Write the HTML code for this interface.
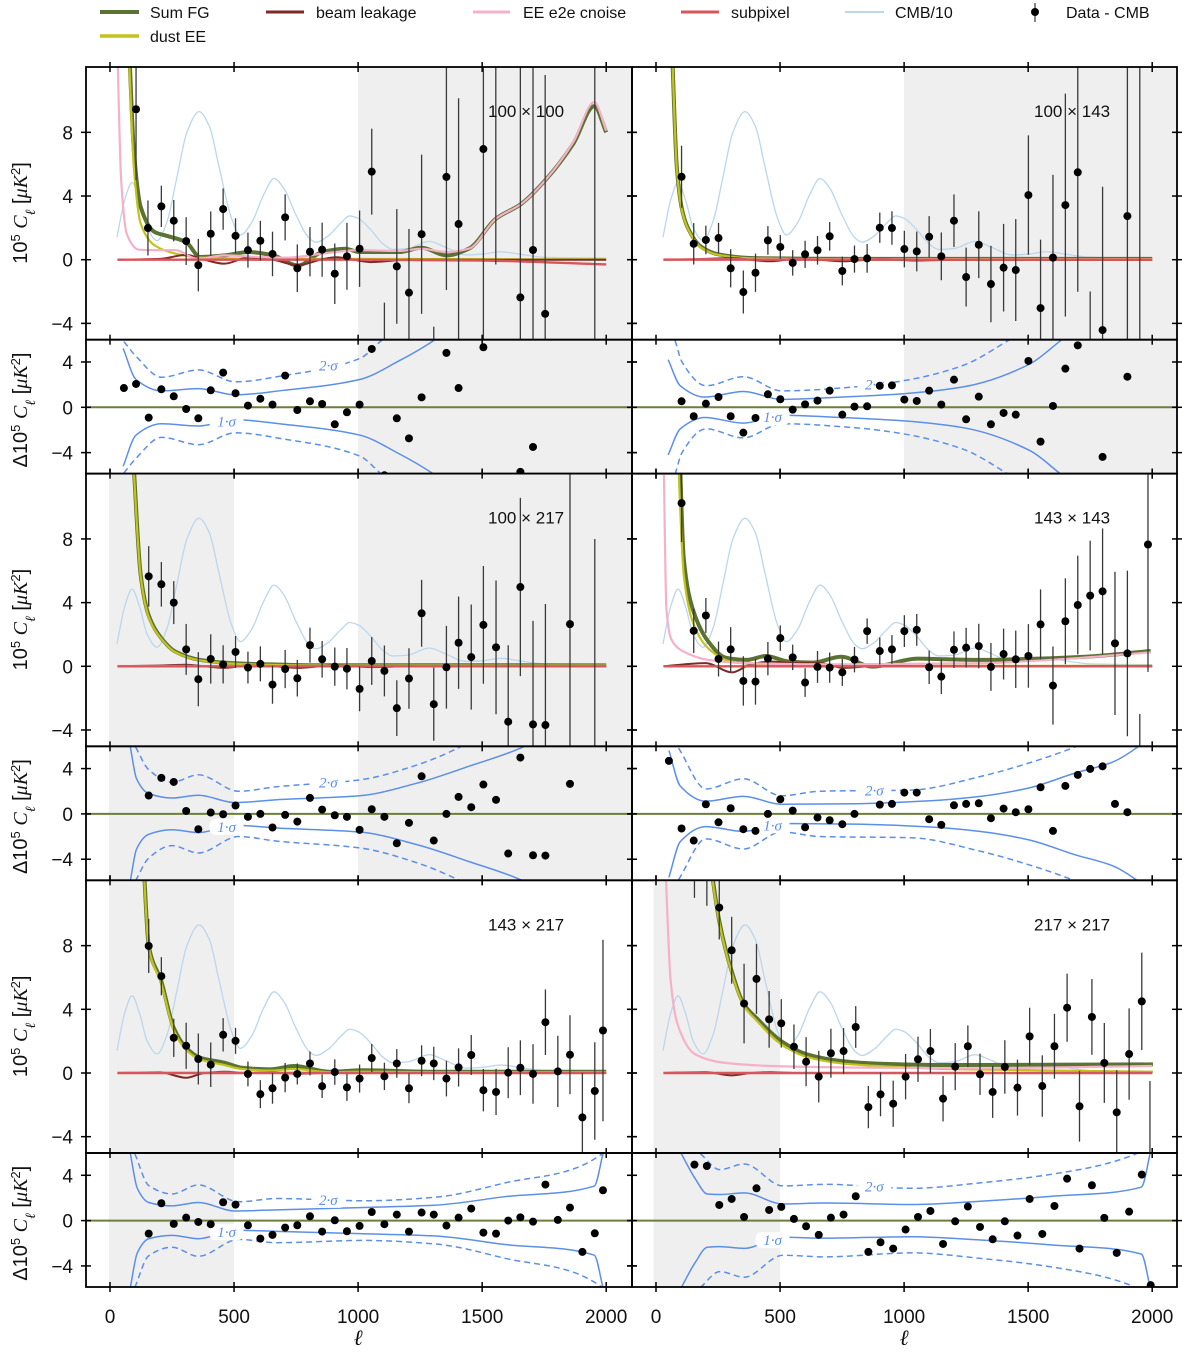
<!DOCTYPE html>
<html><head><meta charset="utf-8"><title>EE foreground residuals</title>
<style>
html,body{margin:0;padding:0;background:#fff}
svg{display:block}
text{font-family:"Liberation Sans","DejaVu Sans",sans-serif;fill:#111}
</style></head>
<body>
<svg id="chart" xmlns="http://www.w3.org/2000/svg" width="1200" height="1362" viewBox="0 0 1200 1362">
<defs id="defs"></defs>
<g id="legend">
  <g><line x1="100" y1="12" x2="139" y2="12" stroke="#5b7332" stroke-width="4"/><text x="150" y="18" font-size="16">Sum FG</text></g>
  <g><line x1="100" y1="36" x2="139" y2="36" stroke="#c4c21c" stroke-width="3.5"/><text x="150" y="42" font-size="16">dust EE</text></g>
  <g><line x1="266" y1="12" x2="304" y2="12" stroke="#7e2a26" stroke-width="3"/><text x="316" y="18" font-size="16">beam leakage</text></g>
  <g><line x1="473" y1="12" x2="510" y2="12" stroke="#f6b0c8" stroke-width="3"/><text x="523" y="18" font-size="16">EE e2e cnoise</text></g>
  <g><line x1="681" y1="12" x2="719" y2="12" stroke="#d9555c" stroke-width="3"/><text x="731" y="18" font-size="16">subpixel</text></g>
  <g><line x1="845" y1="12" x2="884" y2="12" stroke="#bcd6ec" stroke-width="2"/><text x="895" y="18" font-size="16">CMB/10</text></g>
  <g><line x1="1035" y1="3" x2="1035" y2="22" stroke="#333" stroke-width="1.2"/><circle cx="1035" cy="12" r="4" fill="#000"/><text x="1066" y="18" font-size="16">Data - CMB</text></g>
</g>
<g id="panels"></g>
</svg>
<script>
// ---------- shared CMB/10 template ----------
const cmbEll = [28,60,89,120,150,190,230,270,310,359,400,440,490,525,570,620,661,700,750,800,830,880,930,966,1000,1050,1100,1139,1200,1287,1350,1435,1500,1575,1650,1750,2000];
const cmbVal = [1.4,3.8,4.85,3.7,2.0,1.2,2.4,5.2,8.0,9.3,8.4,5.8,2.6,1.55,2.3,4.1,5.1,4.5,2.8,1.4,1.1,1.5,2.3,2.75,2.6,1.9,1.0,0.65,0.7,1.15,0.8,0.3,0.35,0.5,0.35,0.15,0.1];
const beamEll = [30,200,307,380,461,560,658,757,850,911,1052,1200,2000];
const subEll = [30,1000,1500,2000];
const xTicks = [0,500,1000,1500,2000];
const xTickLabels = ["0","500","1000","1500","2000"];
const yMainTicks = [8,4,0,-4];
const yMainTickLabels = ["8","4","0","\u22124"];
const yResTicks = [4,0,-4];
const yResTickLabels = ["4","0","\u22124"];

// ---------- 100 x 100 ----------
const p1_ell = [105,153,207,257,307,356,406,456,506,556,606,655,706,755,806,855,906,955,1006,1055,1106,1156,1205,1256,1305,1356,1405,1505,1555,1654,1705,1754,1954];
const p1_val = [9.45,1.99,3.35,2.45,1.17,-0.34,1.63,3.18,1.5,0.6,1.19,0.36,2.66,-0.54,0.5,0.63,-0.88,0.21,0.69,5.53,-5.6,-0.42,-2.07,1.6,-9.7,5.2,2.24,6.95,13,-2.37,0.61,-3.4,-15];
const p1_err = [4.45,1.73,1.3,1.3,1.5,1.65,1.4,1.3,1.1,1.1,1.25,1.4,1.45,1.5,1.55,1.7,1.9,2.1,2.4,2.7,2.9,3.6,4,5,5.5,7.1,7.9,12,13.3,15,14,15,30];
const p1_rell = [56,105,156,207,257,307,356,406,456,506,556,606,655,706,755,806,855,906,955,1006,1055,1106,1156,1205,1256,1356,1405,1505,1654,1705];
const p1_rval = [1.7,2.06,-0.91,1.59,0.97,-0.15,-0.97,1.5,3.06,1.24,0.15,0.76,0.24,2.8,-0.24,0.53,0.29,-1.5,-0.44,0.24,5.15,-6,-0.97,-2.74,0.88,4.8,1.7,5.3,-5.7,-3.5];
const p1_s1ell = [53,105,208,356,506,700,1006,1165,1305,1400];
const p1_s1 = [5.2,2.45,1.45,1.65,1.1,1.5,2.45,4.1,5.9,7.5];
const p1_s2ell = [56,105,208,356,506,700,1006,1100,1200];
const p1_s2 = [5.8,4.5,2.65,3.3,2.25,2.8,4.3,6.0,7.5];
const p1_fgEll = [78,96,124,180,236,307,363,461,560,658,757,855,947,1006,1165,1256,1356,1446,1556,1657,1755,1868,1952,2000];
const p1_fg = [13,6.9,3.3,1.74,1.47,1.1,0.17,0.27,0.48,0.27,-0.36,0.48,0.69,0.48,0.48,0.75,0.27,0.69,2.58,3.5,5.0,7.3,9.65,8.0];
const p1_dustEll = [76,96,124,180,264,363,600,2000];
const p1_dust = [13,5.8,2.26,0.9,0.38,0.13,0.06,0.02];
const p1_pinkEll = [30,45,68,117,208,264,349,461,602,715,855,1006,1165,1256,1356,1446,1556,1657,1755,1868,1952,2000];
const p1_pink = [13,5,1.6,0.63,0.6,0.6,0.06,0.27,0.17,0.13,0.38,0.6,0.55,0.69,0.48,0.69,2.58,3.5,5.0,7.4,9.9,8.1];
const p1_beam = [0,0.05,0.3,0,-0.25,0.15,0,-0.35,0,0.15,-0.15,0,0];
const p1_sub = [0,0,-0.05,-0.3];

// ---------- 100 x 143 ----------
const p2_ell = [103,152,201,252,301,352,401,451,501,551,601,651,700,751,800,851,902,951,1001,1051,1101,1150,1201,1250,1301,1350,1401,1450,1501,1550,1600,1650,1700,1750,1800,1900,1950];
const p2_val = [5.21,1.0,1.24,1.36,-0.54,-2.03,-0.82,1.21,0.8,-0.2,0.34,0.59,1.47,-0.71,0.04,0.08,2.01,1.99,0.67,0.52,1.44,0.21,2.45,-1.09,0.94,-1.53,-0.5,-0.65,4.06,-3.04,0.13,3.43,5.49,-11,-4.42,2.74,-20];
const p2_err = [1.95,1.3,0.9,0.95,1.2,1.35,1.2,0.9,0.75,0.8,0.85,0.9,0.9,0.9,0.85,0.9,0.95,1.05,1.15,1.25,1.3,1.5,1.65,1.85,2.1,2.4,2.75,3.2,3.75,4.3,5.2,7,7.5,9,9,12,35];
const p2_rell = [103,152,201,252,301,352,401,451,501,551,601,651,700,751,800,851,902,951,1001,1051,1101,1150,1201,1250,1301,1350,1401,1450,1501,1550,1600,1650,1700,1800,1900];
const p2_rval = [0.53,-0.79,0.32,0.91,-0.79,-2.24,-0.94,1.15,0.71,-0.21,0.26,0.59,1.47,-0.65,0.06,0.09,1.9,1.94,0.68,0.56,1.47,0.24,2.44,-1.06,0.94,-1.5,-0.5,-0.65,4.09,-3.03,0.12,3.41,5.47,-4.38,2.7];
const p2_s1ell = [49,98,197,352,506,745,999,1238,1505,1632,1700];
const p2_s1 = [4.2,1.9,0.9,1.4,0.7,0.9,1.2,1.8,3.8,5.9,7];
const p2_s2ell = [77,105,202,352,506,800,999,1238,1420,1500];
const p2_s2 = [5.9,4.0,1.9,2.7,1.45,1.8,2.35,3.7,5.9,7];
const p2_fgEll = [65,84,103,127,183,253,394,800,2000];
const p2_fg = [13,5.8,3.3,2.05,0.8,0.33,0.1,0.05,0.05];
const p2_dustEll = [65,84,103,127,183,253,394,800,2000];
const p2_dust = [13,5.7,3.2,2.0,0.75,0.3,0.08,0.03,0.03];
const p2_pinkEll = [30,2000];
const p2_pink = [0.02,0.02];
const p2_beam = [0,0.05,0.1,0,-0.1,0.05,0,-0.1,0,0.05,-0.05,0,0];
const p2_sub = [0,0,0,0];

// ---------- 100 x 217 ----------
const p3_ell = [156,207,257,307,356,406,456,506,556,606,655,706,755,806,855,906,955,1006,1055,1106,1156,1205,1256,1305,1356,1405,1456,1505,1556,1605,1654,1705,1755,1854,1954];
const p3_val = [5.65,5.15,4.0,1.06,-0.81,0.46,0.12,0.9,-0.08,0.15,-1.15,-0.17,-0.75,1.33,0.44,-0.02,-0.15,-1.42,0.33,-0.29,-2.63,-0.77,3.33,-2.38,-0.06,1.48,0.58,2.6,1.19,-3.48,4.98,-3.65,-3.69,2.65,-6];
const p3_err = [1.9,1.4,1.35,1.6,1.7,1.55,1.2,1.0,1.0,1.1,1.2,1.2,1.15,1.1,1.15,1.2,1.3,1.4,1.5,1.6,1.75,1.9,2.1,2.3,2.6,2.9,3.3,3.7,4.2,4.8,5.6,6.5,7.6,9.5,14];
const p3_rell = [156,207,257,307,356,406,456,506,556,606,655,706,755,806,855,906,955,1006,1055,1106,1156,1205,1256,1305,1356,1405,1456,1505,1556,1605,1654,1705,1755,1854];
const p3_rval = [1.62,3.18,2.82,0.26,-1.35,0.12,-0.03,0.74,-0.26,0,-1.2,-0.09,-0.68,1.41,0.38,-0.12,-0.26,-1.41,0.41,-0.26,-2.59,-0.79,3.32,-2.35,0,1.5,0.59,2.59,1.24,-3.5,4.97,-3.65,-3.68,2.65];
const p3_s1ell = [82,107,156,250,356,503,672,1006,1235,1446,1664,1750];
const p3_s1 = [5.9,3.1,1.8,1.4,1.65,1.0,1.25,1.6,2.7,4.2,5.9,7];
const p3_s2ell = [103,156,250,356,518,672,1006,1235,1411,1500];
const p3_s2 = [5.9,3.9,2.8,3.45,2.0,2.4,3.0,4.3,5.9,7];
const p3_fgEll = [94,124,156,208,264,363,503,650,800,2000];
const p3_fg = [13,5.7,3.2,1.75,0.92,0.4,0.19,0.12,0.07,0.06];
const p3_dustEll = [93,124,156,208,264,363,503,650,800,2000];
const p3_dust = [13,5.6,3.1,1.7,0.88,0.37,0.16,0.09,0.05,0.04];
const p3_pinkEll = [30,2000];
const p3_pink = [0.02,0.02];
const p3_beam = [0,0.05,0.1,0,-0.1,0.05,0,-0.1,0,0.05,-0.05,0,0];
const p3_sub = [0,0,0,0];

// ---------- 143 x 143 ----------
const p4_ell = [103,152,201,252,301,352,401,451,501,551,601,651,700,751,800,851,902,951,1001,1051,1101,1150,1201,1250,1301,1350,1401,1450,1501,1550,1600,1650,1700,1750,1800,1850,1900,1950,1983];
const p4_val = [10.25,2.23,3.19,0.46,1.06,-0.92,-0.96,0.48,1.77,0.56,-1.02,-0.04,-0.08,-0.38,0.42,2.21,0.96,1.06,2.21,2.29,-0.06,-0.65,1.04,1.17,1.27,-0.04,0.77,0.44,0.65,2.63,-1.21,2.83,3.85,4.44,4.71,1.44,0.81,-9,7.65];
const p4_err = [2.45,1.4,1.1,1.1,1.4,1.55,1.45,1.05,0.8,0.8,0.9,1.0,0.95,0.85,0.8,0.8,0.85,0.9,1.0,1.0,1.05,1.1,1.15,1.25,1.4,1.5,1.6,1.8,2.0,2.2,2.45,2.7,3.1,3.45,3.95,4.5,5.2,6,8];
const p4_rell = [52,103,152,201,252,301,352,401,451,501,551,601,651,700,751,800,902,951,1001,1051,1101,1150,1201,1250,1301,1350,1401,1450,1501,1550,1600,1650,1700,1750,1800,1850,1900];
const p4_rval = [4.68,-1.29,-2.35,0.85,-0.74,0.5,-1.35,-1.5,0,1.29,0.29,-1.18,-0.32,-0.56,-0.91,0,0.82,0.88,1.88,1.88,-0.47,-0.97,0.76,0.88,0.94,-0.38,0.47,0.15,0.41,2.35,-1.5,2.47,3.44,3.97,4.2,0.88,0.15];
const p4_s1ell = [52,98,201,352,506,802,1097,1308,1505,1688,1843,1941,2000];
const p4_s1 = [5.6,2.45,1.12,1.55,0.85,0.9,1.15,1.55,2.3,3.6,4.6,5.9,7];
const p4_s2ell = [91,201,352,506,661,1027,1308,1519,1688,1800];
const p4_s2 = [5.8,2.2,3.1,1.6,2.0,2.1,3.3,4.6,5.9,7];
const p4_fgEll = [96,112,148,211,281,366,443,534,633,745,872,1055,1167,1308,1449,1730,1994];
const p4_fg = [13,6.75,3.6,1.55,0.54,0.4,0.65,0.3,0.23,0.6,-0.02,0.48,0.44,0.4,0.44,0.6,0.96];
const p4_dustEll = [89,112,148,211,295,436,800,2000];
const p4_dust = [13,5.7,2.8,1.12,0.33,0.08,0.03,0.03];
const p4_pinkEll = [31,42,63,112,211,366,745,1308,1589,1994];
const p4_pink = [13,3.6,1.65,0.92,0.4,0.19,0.12,0.19,0.4,0.88];
const p4_beam = [0,0.2,-0.38,0.1,0.3,0.2,0.2,-0.1,0,0.1,0,0,0];
const p4_sub = [0,0,0,0];

// ---------- 143 x 217 ----------
const p5_ell = [156,207,257,307,356,406,456,506,556,606,655,706,755,806,855,906,955,1006,1055,1106,1156,1205,1256,1305,1356,1405,1456,1505,1556,1605,1654,1705,1755,1805,1854,1904,1954,1987];
const p5_val = [7.98,6.08,2.21,1.71,0.88,0.52,2.4,2.02,-0.06,-1.33,-0.96,-0.29,-0.06,0.6,-0.83,0.06,-0.9,-0.35,0.94,-0.21,0.6,-0.96,0.77,0.6,-0.35,0.35,1.13,-1.08,-1.19,0.02,0.33,-0.06,3.19,0.1,1.15,-2.79,-1.13,2.67];
const p5_err = [1.7,1.2,1.2,1.45,1.6,1.4,1.05,0.82,0.78,0.88,0.97,0.92,0.66,0.75,0.74,0.8,0.85,0.88,0.88,0.86,0.9,0.94,0.97,1.05,1.12,1.2,1.26,1.33,1.45,1.6,1.72,1.87,2.06,2.24,2.48,2.8,3.06,5.7];
const p5_rell = [156,207,257,307,356,406,456,506,556,606,655,706,755,806,855,906,955,1006,1055,1106,1156,1205,1256,1305,1356,1405,1456,1505,1556,1605,1654,1705,1755,1805,1854,1904,1954,1987];
const p5_rval = [-1.15,1.53,-0.29,0.26,-0.12,-0.32,1.62,1.41,-0.41,-1.59,-1.26,-0.62,-0.41,0.38,-0.97,0.03,-0.94,-0.47,0.76,-0.32,0.53,-0.97,0.71,0.53,-0.44,0.26,1.06,-1.06,-1.15,0,0.29,-0.09,3.18,0.06,1.15,-2.76,-1.12,2.68];
const p5_s1ell = [82,110,156,250,356,503,672,1006,1305,1587,1952,1987,2000];
const p5_s1 = [5.9,2.85,1.6,1.3,1.6,0.85,0.95,1.15,1.35,2.1,3.05,5.9,7];
const p5_s2ell = [100,156,250,356,518,672,1024,1305,1587,1984,2000];
const p5_s2 = [5.9,3.1,2.35,3.15,1.66,1.95,1.75,2.05,3.3,5.9,7];
const p5_fgEll = [136,156,207,257,307,363,461,532,644,743,883,1024,1300,2000];
const p5_fg = [13,8.0,5.75,2.83,1.58,0.96,0.65,0.33,0.23,0.44,0.08,0.17,0.08,0.08];
const p5_dustEll = [135,156,207,257,307,363,461,532,644,743,883,1024,1300,2000];
const p5_dust = [13,7.9,5.6,2.7,1.45,0.85,0.5,0.25,0.15,0.25,0.05,0.08,0.05,0.05];
const p5_pinkEll = [30,2000];
const p5_pink = [0.02,0.02];
const p5_beam = [0,0.05,-0.3,0,0.08,0,0.05,-0.05,0,0,0,0,0];
const p5_sub = [0,0,0,0];

// ---------- 217 x 217 ----------
const p6_ell = [155,205,255,305,355,405,456,505,556,605,656,705,756,805,856,905,956,1006,1056,1106,1157,1206,1257,1306,1357,1406,1457,1506,1557,1606,1657,1707,1757,1807,1857,1907,1958,1991];
const p6_val = [14,13,10.39,7.71,4.36,5.91,3.37,3.12,1.65,0.71,-0.23,1.24,1.38,2.89,-2.14,-1.34,-1.93,-0.23,0.86,1.38,-1.61,0.4,1.68,-0.08,-1.19,0.38,-0.92,2.3,-0.82,1.68,4.1,-2.09,3.52,0.63,-2.47,1.19,4.5,-6];
const p6_err = [3,2.5,2,2.1,2.5,2.2,1.78,1.52,1.4,1.54,1.62,1.54,1.44,1.31,1.33,1.38,1.45,1.43,1.42,1.38,1.43,1.48,1.31,1.3,1.63,1.68,1.76,1.8,1.93,2.04,2.14,2.22,2.38,2.51,2.65,2.87,3.06,5.5];
const p6_rell = [155,205,255,305,355,405,456,505,556,605,656,705,756,805,856,905,956,1006,1056,1106,1157,1206,1257,1306,1357,1406,1457,1506,1557,1606,1657,1707,1757,1807,1857,1907,1958,1994];
const p6_rval = [4.94,4.82,1.38,1.91,0.32,2.85,0.94,1.21,0.15,-0.5,-1.26,0.26,0.53,2.15,-2.76,-1.91,-2.47,-0.79,0.32,0.85,-2.06,-0.06,1.24,-0.56,-1.65,-0.06,-1.32,1.91,-1.18,1.29,3.7,-2.47,3.12,0.24,-2.85,0.79,4.06,-5.7];
const p6_s1ell = [102,158,207,257,355,511,680,1032,1315,1597,1956,1991,2000];
const p6_s1 = [5.9,3.7,2.35,2.3,2.45,1.47,1.55,1.42,1.72,2.15,2.95,5.9,7];
const p6_s2ell = [179,257,355,511,680,1032,1315,1597,1935,2000];
const p6_s2 = [5.9,4.5,5.0,3.06,3.2,2.85,3.35,4.1,5.9,7];
const p6_fgEll = [221,255,305,355,405,505,609,750,891,1173,2003];
const p6_fg = [13,9.55,6.4,4.3,3.45,2.0,1.17,0.75,0.59,0.5,0.54];
const p6_dustEll = [219,255,305,355,405,505,609,750,891,1173,2003];
const p6_dust = [13,9.45,6.3,4.2,3.3,1.8,1.0,0.6,0.44,0.25,0.08];
const p6_pinkEll = [38,59,87,158,271,468,891,1300,2000];
const p6_pink = [13,5.8,3.05,1.17,0.65,0.44,0.33,0.3,0.44];
const p6_beam = [0,0.05,-0.15,0,0.05,0,0,0,0,0,0,0,0];
const p6_sub = [0,0,0,0];

// ---------- layout ----------
const K = 0.2481;
const COLS = [{x0:86,x1:632,l0:110},{x0:632,x1:1177,l0:656}];
const ROWS = [67,473.6,880.3];
const MAINH = 272.7, TOTH = 406.7;
const NS = "http://www.w3.org/2000/svg";

const PANELS = [
 {id:"100x100",label:"100 \u00d7 100",col:0,row:0,shade:[[1000,2150]],ell:p1_ell,val:p1_val,err:p1_err,rell:p1_rell,rval:p1_rval,s1e:p1_s1ell,s1:p1_s1,s2e:p1_s2ell,s2:p1_s2,fge:p1_fgEll,fg:p1_fg,de:p1_dustEll,d:p1_dust,pe:p1_pinkEll,p:p1_pink,b:p1_beam,s:p1_sub},
 {id:"100x143",label:"100 \u00d7 143",col:1,row:0,shade:[[1000,2150]],ell:p2_ell,val:p2_val,err:p2_err,rell:p2_rell,rval:p2_rval,s1e:p2_s1ell,s1:p2_s1,s2e:p2_s2ell,s2:p2_s2,fge:p2_fgEll,fg:p2_fg,de:p2_dustEll,d:p2_dust,pe:p2_pinkEll,p:p2_pink,b:p2_beam,s:p2_sub},
 {id:"100x217",label:"100 \u00d7 217",col:0,row:1,shade:[[-5,500],[1000,2150]],ell:p3_ell,val:p3_val,err:p3_err,rell:p3_rell,rval:p3_rval,s1e:p3_s1ell,s1:p3_s1,s2e:p3_s2ell,s2:p3_s2,fge:p3_fgEll,fg:p3_fg,de:p3_dustEll,d:p3_dust,pe:p3_pinkEll,p:p3_pink,b:p3_beam,s:p3_sub},
 {id:"143x143",label:"143 \u00d7 143",col:1,row:1,shade:[],ell:p4_ell,val:p4_val,err:p4_err,rell:p4_rell,rval:p4_rval,s1e:p4_s1ell,s1:p4_s1,s2e:p4_s2ell,s2:p4_s2,fge:p4_fgEll,fg:p4_fg,de:p4_dustEll,d:p4_dust,pe:p4_pinkEll,p:p4_pink,b:p4_beam,s:p4_sub},
 {id:"143x217",label:"143 \u00d7 217",col:0,row:2,shade:[[-5,500]],ell:p5_ell,val:p5_val,err:p5_err,rell:p5_rell,rval:p5_rval,s1e:p5_s1ell,s1:p5_s1,s2e:p5_s2ell,s2:p5_s2,fge:p5_fgEll,fg:p5_fg,de:p5_dustEll,d:p5_dust,pe:p5_pinkEll,p:p5_pink,b:p5_beam,s:p5_sub},
 {id:"217x217",label:"217 \u00d7 217",col:1,row:2,shade:[[-10,500]],ell:p6_ell,val:p6_val,err:p6_err,rell:p6_rell,rval:p6_rval,s1e:p6_s1ell,s1:p6_s1,s2e:p6_s2ell,s2:p6_s2,fge:p6_fgEll,fg:p6_fg,de:p6_dustEll,d:p6_dust,pe:p6_pinkEll,p:p6_pink,b:p6_beam,s:p6_sub}
];

function xS(c,l){return COLS[c].l0 + l*K;}
function yM(r,v){return ROWS[r] + 192.7 - v*15.92;}
function yR(r,v){return ROWS[r] + 340.3 - v*11.33;}

function mk(tag, attrs, parent){
  const e = document.createElementNS(NS, tag);
  for (const k in attrs) e.setAttribute(k, attrs[k]);
  parent.appendChild(e);
  return e;
}
function monoPath(px, py){
  const n = px.length;
  if (n < 2) return "";
  const dx=[], m=[];
  for (let i=0;i<n-1;i++){dx.push(px[i+1]-px[i]); m.push((py[i+1]-py[i])/(dx[i]||1e-6));}
  const t=[m[0]];
  for (let i=1;i<n-1;i++){
    if (m[i-1]*m[i] <= 0) t.push(0);
    else t.push(3*(dx[i-1]+dx[i])/((2*dx[i]+dx[i-1])/m[i-1] + (dx[i]+2*dx[i-1])/m[i]));
  }
  t.push(m[n-2]);
  let d = "M"+px[0].toFixed(2)+","+py[0].toFixed(2);
  for (let i=0;i<n-1;i++){
    const h = dx[i]/3;
    d += " C"+(px[i]+h).toFixed(2)+","+(py[i]+t[i]*h).toFixed(2)+" "+(px[i+1]-h).toFixed(2)+","+(py[i+1]-t[i+1]*h).toFixed(2)+" "+px[i+1].toFixed(2)+","+py[i+1].toFixed(2);
  }
  return d;
}
function interp(xs, ys, x){
  if (x <= xs[0]) return ys[0];
  for (let i=0;i<xs.length-1;i++){
    if (x <= xs[i+1]) return ys[i] + (ys[i+1]-ys[i])*(x-xs[i])/(xs[i+1]-xs[i]);
  }
  return ys[ys.length-1];
}

const root = document.getElementById("panels");
const defs = document.getElementById("defs");

PANELS.forEach(function(P, idx){
  const c = P.col, r = P.row, C = COLS[c], T = ROWS[r];
  const x0 = C.x0, x1 = C.x1, w = x1 - x0;
  const g = mk("g", {}, root);
  
  

  // clip paths
  const cm = mk("clipPath", {id:"cm"+idx}, defs);
  mk("rect", {x:x0, y:T, width:w, height:MAINH}, cm);
  const cr = mk("clipPath", {id:"cr"+idx}, defs);
  mk("rect", {x:x0, y:T+MAINH, width:w, height:TOTH-MAINH}, cr);

  // shading
  P.shade.forEach(function(s){
    const xa = Math.max(x0, xS(c,s[0])), xb = Math.min(x1, xS(c,s[1]));
    const sh = mk("rect", {x:xa, y:T, width:xb-xa, height:TOTH, fill:"#efefef"}, g);
    
    
  });

  // ---- main panel ----
  const gm = mk("g", {"clip-path":"url(#cm"+idx+")"}, g);
  
  

  function curve(ells, vals, color, width, name, parent){
    const px = ells.map(function(l){return xS(c,l);});
    const py = vals.map(function(v){return yM(r,v);});
    const p = mk("path", {d:monoPath(px,py), fill:"none", stroke:color, "stroke-width":width, "stroke-linejoin":"round"}, parent);
    
    
    return p;
  }
  curve(cmbEll, cmbVal, "#bcd6ec", 1.3, "cmb-over-10-curve", gm);
  curve(P.fge, P.fg, "#5b7332", 4, "sum-fg-curve", gm);
  curve(P.de, P.d, "#c4c21c", 2.2, "dust-ee-curve", gm);
  curve(beamEll, P.b, "#7e2a26", 2, "beam-leakage-curve", gm);
  curve(P.pe, P.p, "#f6b0c8", 2.2, "ee-e2e-cnoise-curve", gm);
  curve(subEll, P.s, "#d9555c", 2.4, "subpixel-curve", gm);

  P.ell.forEach(function(l, i){
    const xx = xS(c,l), v = P.val[i], e = P.err[i];
    const eb = mk("line", {x1:xx, x2:xx, y1:yM(r,v+e), y2:yM(r,v-e), stroke:"#3a3a3a", "stroke-width":1.3}, gm);
    
    
    const dot = mk("circle", {cx:xx, cy:yM(r,v), r:4, fill:"#000"}, gm);
    
    
  });

  // ---- residual panel ----
  const gr = mk("g", {"clip-path":"url(#cr"+idx+")"}, g);
  
  
  const zl = mk("line", {x1:x0, x2:x1, y1:yR(r,0), y2:yR(r,0), stroke:"#6b7f3a", "stroke-width":2}, gr);
  
  

  function band(ells, vals, sign, dash, name){
    const px = ells.map(function(l){return xS(c,l);});
    const py = vals.map(function(v){return yR(r,sign*v);});
    const attrs = {d:monoPath(px,py), fill:"none", stroke:"#5b8fe8", "stroke-width":1.5};
    if (dash) attrs["stroke-dasharray"] = "6,4";
    const p = mk("path", attrs, gr);
    
    
  }
  band(P.s1e, P.s1, 1, false, "one-sigma-upper");
  band(P.s1e, P.s1, -1, false, "one-sigma-lower");
  band(P.s2e, P.s2, 1, true, "two-sigma-upper");
  band(P.s2e, P.s2, -1, true, "two-sigma-lower");

  // sigma labels
  const l1x = xS(c,470), l1y = yR(r,-interp(P.s1e,P.s1,470));
  const bg1 = mk("rect", {x:l1x-17, y:l1y-8, width:34, height:16, rx:6, fill:"#fff"}, gr);
  
  
  const t1 = mk("text", {x:l1x, y:l1y+5, "text-anchor":"middle", "font-size":"15", "font-style":"italic", style:"fill:#5b8fe8;font-family:'Liberation Serif',serif"}, gr);
  t1.textContent = "1\u00b7\u03c3";
  
  
  const l2x = xS(c,880), l2y = yR(r,interp(P.s2e,P.s2,880));
  const bg2 = mk("rect", {x:l2x-17, y:l2y-8, width:34, height:16, rx:6, fill:"#fff"}, gr);
  
  
  const t2 = mk("text", {x:l2x, y:l2y+5, "text-anchor":"middle", "font-size":"15", "font-style":"italic", style:"fill:#5b8fe8;font-family:'Liberation Serif',serif"}, gr);
  t2.textContent = "2\u00b7\u03c3";
  
  

  P.rell.forEach(function(l, i){
    const dot = mk("circle", {cx:xS(c,l), cy:yR(r,P.rval[i]), r:4, fill:"#000"}, gr);
    
    
  });

  // ---- frames ----
  const fm = mk("rect", {x:x0, y:T, width:w, height:MAINH, fill:"none", stroke:"#000", "stroke-width":1.8}, g);
  
  
  const fr = mk("rect", {x:x0, y:T+MAINH, width:w, height:TOTH-MAINH, fill:"none", stroke:"#000", "stroke-width":1.8}, g);
  
  

  // ticks
  const gt = mk("g", {stroke:"#000", "stroke-width":1.5}, g);
  
  
  xTicks.forEach(function(l){
    const xx = xS(c,l);
    [T, T+MAINH, T+TOTH].forEach(function(yy){ mk("line", {x1:xx, x2:xx, y1:yy-5, y2:yy+5}, gt); });
  });
  yMainTicks.forEach(function(v){
    const yy = yM(r,v);
    mk("line", {x1:x0-5, x2:x0+5, y1:yy, y2:yy}, gt);
    mk("line", {x1:x1-5, x2:x1+5, y1:yy, y2:yy}, gt);
  });
  yResTicks.forEach(function(v){
    const yy = yR(r,v);
    mk("line", {x1:x0-5, x2:x0+5, y1:yy, y2:yy}, gt);
    mk("line", {x1:x1-5, x2:x1+5, y1:yy, y2:yy}, gt);
  });

  // panel title
  const tt = mk("text", {x:xS(c,1677), y:T+50, "text-anchor":"middle", "font-size":"17"}, g);
  tt.textContent = P.label;
  
  

  // y tick labels (left column only)
  if (c === 0){
    yMainTicks.forEach(function(v, i){
      const tl = mk("text", {x:73, y:yM(r,v)+7, "text-anchor":"end", "font-size":"19"}, g);
      tl.textContent = yMainTickLabels[i];
      
      
    });
    yResTicks.forEach(function(v, i){
      const tl = mk("text", {x:73, y:yR(r,v)+7, "text-anchor":"end", "font-size":"19"}, g);
      tl.textContent = yResTickLabels[i];
      
      
    });
    // y axis titles
    const ya = mk("text", {transform:"translate(27,"+(T+146)+") rotate(-90)", "text-anchor":"middle", "font-size":"20"}, g);
    ya.innerHTML = '10<tspan baseline-shift="super" font-size="13">5</tspan> <tspan font-style="italic" style="font-family:\'Liberation Serif\',serif">C</tspan><tspan baseline-shift="sub" font-size="14" font-style="italic" style="font-family:\'Liberation Serif\',serif">\u2113</tspan>  [<tspan font-style="italic" style="font-family:\'Liberation Serif\',serif">\u03bcK</tspan><tspan baseline-shift="super" font-size="13">2</tspan>]';
    
    
    const yb = mk("text", {transform:"translate(27,"+(T+343)+") rotate(-90)", "text-anchor":"middle", "font-size":"20"}, g);
    yb.innerHTML = '\u039410<tspan baseline-shift="super" font-size="13">5</tspan> <tspan font-style="italic" style="font-family:\'Liberation Serif\',serif">C</tspan><tspan baseline-shift="sub" font-size="14" font-style="italic" style="font-family:\'Liberation Serif\',serif">\u2113</tspan>  [<tspan font-style="italic" style="font-family:\'Liberation Serif\',serif">\u03bcK</tspan><tspan baseline-shift="super" font-size="13">2</tspan>]';
    
    
  }

  // x tick labels (bottom row only)
  if (r === 2){
    xTicks.forEach(function(l, i){
      const tl = mk("text", {x:xS(c,l), y:1323, "text-anchor":"middle", "font-size":"19"}, g);
      tl.textContent = xTickLabels[i];
      
      
    });
    const xl = mk("text", {x:xS(c,1000), y:1345, "text-anchor":"middle", "font-size":"22", "font-style":"italic", style:"font-family:'Liberation Serif',serif"}, g);
    xl.textContent = "\u2113";
    
    
  }
});
</script>
</body></html>
